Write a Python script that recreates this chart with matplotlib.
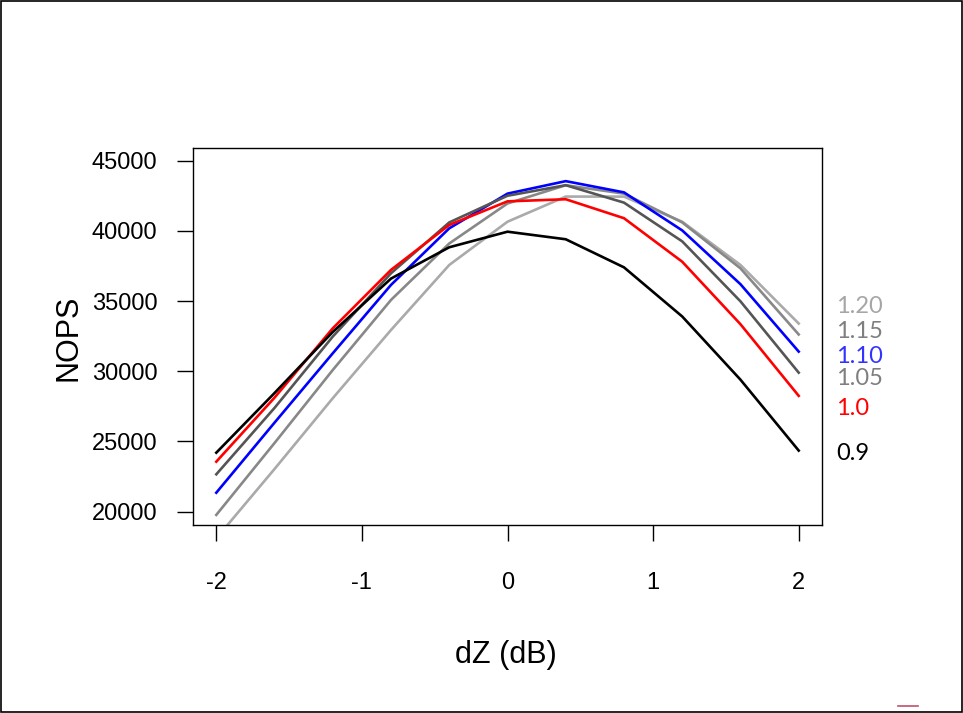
import matplotlib
matplotlib.use("Agg")
import matplotlib.pyplot as plt
from matplotlib.lines import Line2D
from matplotlib.patches import Rectangle

plt.rcParams['font.family'] = ['Liberation Sans', 'DejaVu Sans']

# dZ values (dB)
dz = [-2, -1.6, -1.2, -0.8, -0.4, 0, 0.4, 0.8, 1.2, 1.6, 2]

# NOPS for each scaling factor
nops_090 = [24200, 28450, 32800, 36600, 38830, 39940, 39400, 37400, 33900, 29400, 24350]
nops_100 = [23560, 28120, 33060, 37220, 40420, 42100, 42250, 40900, 37800, 33350, 28250]
nops_105 = [22660, 27390, 32470, 36980, 40600, 42500, 43250, 42010, 39250, 34980, 29900]
nops_110 = [21350, 26340, 31280, 36150, 40180, 42650, 43540, 42740, 40030, 36200, 31400]
nops_115 = [19770, 24890, 30090, 35080, 39100, 41950, 43250, 42650, 40600, 37330, 32620]
nops_120 = [18100, 23040, 28080, 32940, 37570, 40650, 42440, 42440, 40650, 37570, 33400]

series = [nops_120, nops_115, nops_110, nops_105, nops_100, nops_090]
line_colors = ['#aaaaaa', '#888888', '#0000ff', '#555555', '#ff0000', '#000000']
labels = ['1.20', '1.15', '1.10', '1.05', '1.0', '0.9']
label_colors = ['#a6a6a6', '#7f7f7f', '#3333ff', '#7f7f7f', '#ff0000', '#000000']
label_y = [306.7, 331.7, 356.7, 378.3, 408.3, 453.3]  # pixel rows of the side labels

xticks = [-2, -1, 0, 1, 2]
yticks = [20000, 25000, 30000, 35000, 40000, 45000]

W, H = 963, 713
fig = plt.figure(figsize=(W / 100, H / 100), dpi=100)
ax = fig.add_axes([193 / W, 1 - 525 / H, (822 - 193) / W, (525 - 148) / H])

for vals, c in zip(series, line_colors):
    ax.plot(dz, vals, color=c, lw=1.9, solid_joinstyle='miter')

ax.set_xlim(-2.16, 2.16)
ax.set_ylim(19050, 45900)
ax.set_xticks(xticks)
ax.set_xticklabels([str(t) for t in xticks])
ax.set_yticks(yticks)
ax.set_yticklabels([str(t) for t in yticks])
ax.tick_params(axis='both', direction='out', length=11.5, width=1.0, labelsize=17)
ax.tick_params(axis='x', pad=22)
ax.tick_params(axis='y', pad=14)
for s in ax.spines.values():
    s.set_linewidth(1.0)

fig.text(68 / W, 1 - 338 / H, 'NOPS', rotation=90, ha='center', va='center', fontsize=22)
fig.text(506 / W, 1 - 655 / H, 'dZ (dB)', ha='center', va='center', fontsize=22)

for lab, c, y in zip(labels, label_colors, label_y):
    fig.text(836 / W, 1 - y / H, lab, color=c, ha='left', va='center',
             fontsize=17, family=['Lato', 'DejaVu Sans'])

# thin frame round the whole picture and the small mark at lower right
fig.add_artist(Rectangle((0.001, 0.001), 0.998, 0.997, transform=fig.transFigure,
                         fill=False, ec='black', lw=1.2))
fig.add_artist(Line2D([898 / W, 918 / W], [1 - 706 / H, 1 - 706 / H],
                      transform=fig.transFigure, color='#c0506a', lw=1.2))

fig.savefig('out.png', dpi=100)
